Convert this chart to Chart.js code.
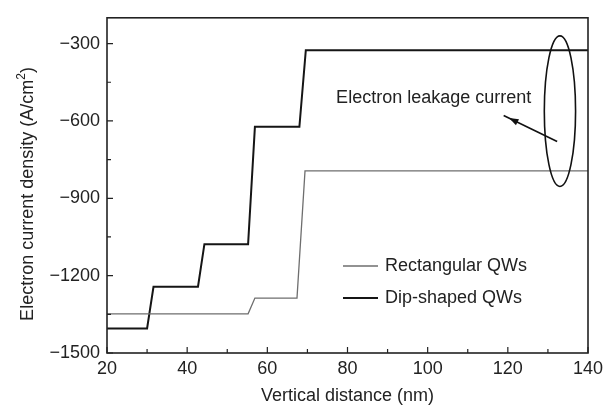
<!DOCTYPE html>
<html>
<head>
<meta charset="utf-8">
<script src="https://cdn.jsdelivr.net/npm/chart.js@4.4.1/dist/chart.umd.min.js"></script>
<style>
  html, body { margin: 0; padding: 0; background: #fff; }
  canvas { display: block; }
</style>
</head>
<body>
<canvas id="chart" width="616" height="410"></canvas>
<script>
// distance (nm) and current density (A/cm^2)
const rectDistance = [20, 55.2, 56.9, 67.4, 69.4, 140];
const rectCurrent = [-1348, -1348, -1287, -1287, -794, -794];
const dipDistance = [20, 30.0, 31.6, 42.7, 44.3, 55.2, 56.9, 68.0, 69.6, 140];
const dipCurrent = [-1405, -1405, -1243, -1243, -1078, -1078, -623, -623, -326, -326];

const xTicks = [20, 40, 60, 80, 100, 120, 140];
const xMinor = [30, 50, 70, 90, 110, 130];
const yTicks = [-1500, -1200, -900, -600, -300];
const yMinor = [-1350, -1050, -750, -450];

const seriesLabels = ["Rectangular QWs", "Dip-shaped QWs"];
const noteText = "Electron leakage current";

const FONT = "'Liberation Sans', Arial, sans-serif";
const INK = "#222";

function toPoints(xs, ys) {
  return xs.map((x, i) => ({ x: x, y: ys[i] }));
}

// inward ticks, frame, legend and the leakage-current annotation
const decorations = {
  id: "decorations",
  afterDraw(chart) {
    const ctx = chart.ctx;
    const a = chart.chartArea;
    const xs = chart.scales.x;
    const ys = chart.scales.y;
    ctx.save();

    // frame
    ctx.strokeStyle = INK;
    ctx.lineWidth = 1.6;
    ctx.strokeRect(a.left, a.top, a.right - a.left, a.bottom - a.top);

    // ticks pointing into the plot
    ctx.lineWidth = 1.2;
    ctx.beginPath();
    xTicks.forEach(v => { const p = xs.getPixelForValue(v); ctx.moveTo(p, a.bottom); ctx.lineTo(p, a.bottom - 6); });
    xMinor.forEach(v => { const p = xs.getPixelForValue(v); ctx.moveTo(p, a.bottom); ctx.lineTo(p, a.bottom - 4); });
    yTicks.forEach(v => { const p = ys.getPixelForValue(v); ctx.moveTo(a.left, p); ctx.lineTo(a.left + 6, p); });
    yMinor.forEach(v => { const p = ys.getPixelForValue(v); ctx.moveTo(a.left, p); ctx.lineTo(a.left + 4, p); });
    ctx.stroke();

    // axis titles
    ctx.fillStyle = INK;
    ctx.font = "18px " + FONT;
    ctx.textAlign = "center";
    ctx.textBaseline = "middle";
    ctx.fillText("Vertical distance (nm)", (a.left + a.right) / 2, 396);

    // y title with a raised "2"
    const main = "Electron current density (A/cm";
    const sup = "2";
    const tail = ")";
    const wMain = ctx.measureText(main).width;
    const wTail = ctx.measureText(tail).width;
    ctx.font = "12px " + FONT;
    const wSup = ctx.measureText(sup).width;
    const total = wMain + wSup + wTail;
    ctx.save();
    ctx.translate(28, 194);
    ctx.rotate(-Math.PI / 2);
    ctx.textAlign = "left";
    ctx.font = "18px " + FONT;
    ctx.fillText(main, -total / 2, 0);
    ctx.fillText(tail, -total / 2 + wMain + wSup, 0);
    ctx.font = "12px " + FONT;
    ctx.fillText(sup, -total / 2 + wMain, -6);
    ctx.restore();
    ctx.font = "18px " + FONT;

    // legend
    ctx.textAlign = "left";
    chart.data.datasets.forEach((ds, i) => {
      const y = 266 + i * 32;
      ctx.strokeStyle = ds.borderColor;
      ctx.lineWidth = ds.borderWidth;
      ctx.beginPath();
      ctx.moveTo(343, y);
      ctx.lineTo(378, y);
      ctx.stroke();
      ctx.fillStyle = INK;
      ctx.fillText(ds.label, 385, y);
    });

    // ellipse around the leakage levels
    const cx = xs.getPixelForValue(133);
    const cy = (ys.getPixelForValue(-270) + ys.getPixelForValue(-854)) / 2;
    const ry = (ys.getPixelForValue(-854) - ys.getPixelForValue(-270)) / 2;
    const rx = xs.getPixelForValue(133) - xs.getPixelForValue(129.1);
    ctx.strokeStyle = "#111";
    ctx.lineWidth = 1.6;
    ctx.beginPath();
    ctx.ellipse(cx, cy, rx, ry, 0, 0, Math.PI * 2);
    ctx.stroke();

    // arrow
    const x0 = xs.getPixelForValue(132.3), y0 = ys.getPixelForValue(-680);
    const x1 = xs.getPixelForValue(120.3), y1 = ys.getPixelForValue(-589);
    const ang = Math.atan2(y1 - y0, x1 - x0);
    ctx.lineWidth = 1.6;
    ctx.beginPath();
    ctx.moveTo(x0, y0);
    ctx.lineTo(x1 + 6 * Math.cos(ang), y1 + 6 * Math.sin(ang));
    ctx.stroke();
    ctx.fillStyle = "#111";
    ctx.beginPath();
    ctx.moveTo(x1, y1);
    ctx.lineTo(x1 - 10 * Math.cos(ang - 0.35), y1 - 10 * Math.sin(ang - 0.35));
    ctx.lineTo(x1 - 10 * Math.cos(ang + 0.35), y1 - 10 * Math.sin(ang + 0.35));
    ctx.closePath();
    ctx.fill();

    ctx.fillStyle = INK;
    ctx.textAlign = "center";
    ctx.fillText(noteText, xs.getPixelForValue(101.5), ys.getPixelForValue(-513));

    ctx.restore();
  }
};

new Chart(document.getElementById("chart"), {
  type: "line",
  data: {
    datasets: [
      {
        label: seriesLabels[0],
        data: toPoints(rectDistance, rectCurrent),
        borderColor: "#6e6e6e",
        borderWidth: 1.3,
        pointRadius: 0,
        fill: false
      },
      {
        label: seriesLabels[1],
        data: toPoints(dipDistance, dipCurrent),
        borderColor: "#151515",
        borderWidth: 2,
        pointRadius: 0,
        fill: false
      }
    ]
  },
  options: {
    responsive: false,
    animation: false,
    layout: { padding: { top: 10, right: 28, left: 0, bottom: 0 } },
    plugins: {
      legend: { display: false },
      tooltip: { enabled: false }
    },
    scales: {
      x: {
        type: "linear",
        min: 20,
        max: 140,
        afterBuildTicks: s => { s.ticks = xTicks.map(v => ({ value: v })); },
        afterFit: s => { s.height = 57; },
        grid: { display: false, drawTicks: false },
        border: { display: false },
        ticks: {
          padding: 5,
          color: INK,
          font: { family: FONT, size: 18 },
          maxRotation: 0
        }
      },
      y: {
        type: "linear",
        min: -1500,
        max: -200,
        afterBuildTicks: s => { s.ticks = yTicks.map(v => ({ value: v })); },
        afterFit: s => { s.width = 107; },
        grid: { display: false, drawTicks: false },
        border: { display: false },
        ticks: {
          padding: 7,
          color: INK,
          font: { family: FONT, size: 18 },
          callback: v => (v < 0 ? "\u2212" + Math.abs(v) : String(v))
        }
      }
    }
  },
  plugins: [decorations]
});
</script>
</body>
</html>
